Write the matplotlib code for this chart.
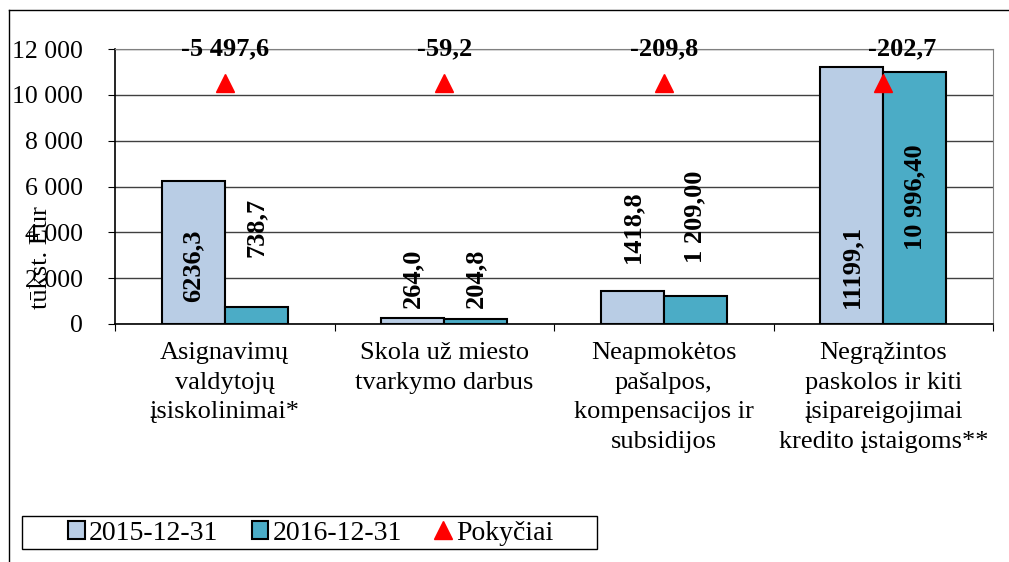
import matplotlib.pyplot as plt
import numpy as np
from matplotlib.lines import Line2D
from matplotlib.patches import Patch, Rectangle

plt.rcParams["font.family"] = ["Liberation Serif", "DejaVu Serif"]

categories = [
    "Asignavimų\nvaldytojų\nįsiskolinimai*",
    "Skola už miesto\ntvarkymo darbus",
    "Neapmokėtos\npašalpos,\nkompensacijos ir\nsubsidijos",
    "Negrąžintos\npaskolos ir kiti\nįsipareigojimai\nkredito įstaigoms**",
]
values_2015 = [6236.3, 264.0, 1418.8, 11199.1]
values_2016 = [738.7, 204.8, 1209.0, 10996.4]
labels_2015 = ["6236,3", "264,0", "1418,8", "11199,1"]
labels_2016 = ["738,7", "204,8", "1 209,00", "10 996,40"]
changes = ["-5 497,6", "-59,2", "-209,8", "-202,7"]
yticks = [0, 2000, 4000, 6000, 8000, 10000, 12000]
ytick_labels = ["0", "2 000", "4 000", "6 000", "8 000", "10 000", "12 000"]

# where the rotated value labels start (bottom of text), in data units
label_base_2015 = [950, 700, 2660, 700]
label_base_2016 = [2920, 700, 2660, 3230]
marker_level = 10500

fig = plt.figure(figsize=(10.09, 5.62), dpi=100)
ax = fig.add_axes([115 / 1009, 1 - 324 / 562, 878 / 1009, 275 / 562])

x = np.arange(len(categories))
w = 0.287
c15 = "#B9CDE5"
c16 = "#4BACC6"
ax.bar(x - w / 2, values_2015, w, color=c15, edgecolor="black", linewidth=1.5, zorder=3)
ax.bar(x + w / 2, values_2016, w, color=c16, edgecolor="black", linewidth=1.5, zorder=3)
ax.plot(x, [marker_level] * len(x), linestyle="none", marker="^", color="red",
        markersize=13, zorder=5)

for i in range(len(x)):
    ax.text(x[i] - w / 2, label_base_2015[i], labels_2015[i], rotation=90, ha="center",
            va="bottom", fontsize=19, fontweight="bold", zorder=6)
    ax.text(x[i] + w / 2, label_base_2016[i], labels_2016[i], rotation=90, ha="center",
            va="bottom", fontsize=19, fontweight="bold", zorder=6)
    dx = 0.085 if i == 3 else 0
    ax.text(x[i] + dx, 12000, changes[i], ha="center", va="center", fontsize=19,
            fontweight="bold", zorder=6)

ax.set_xlim(-0.5, len(x) - 0.5)
ax.set_ylim(0, 12000)
ax.set_yticks(yticks)
ax.set_yticklabels(ytick_labels, fontsize=18.5)
ax.set_xticks(np.arange(len(x) + 1) - 0.5)
ax.set_xticklabels([])
ax.set_xticks(x, minor=True)
ax.set_xticklabels(categories, minor=True, fontsize=19, linespacing=1.45, va="top")
ax.tick_params(axis="x", which="minor", length=0, pad=13)
ax.tick_params(axis="x", which="major", length=5, direction="out", color="black")
ax.tick_params(axis="y", length=5, direction="out", pad=18)
ax.grid(axis="y", color="#404040", linewidth=1, zorder=0)

for side in ["top", "right"]:
    ax.spines[side].set_color("#808080")
ax.spines["left"].set_linewidth(1.2)
ax.spines["bottom"].set_linewidth(1.2)

fig.text(41 / 1009, 1 - 258 / 562, "tūkst. Eur", rotation=90, ha="center", va="center",
         fontsize=19)

handles = [
    Patch(facecolor=c15, edgecolor="black", linewidth=1.5, label="2015-12-31"),
    Patch(facecolor=c16, edgecolor="black", linewidth=1.5, label="2016-12-31"),
    Line2D([], [], linestyle="none", marker="^", color="red", markersize=13, label="Pokyčiai"),
]
leg = fig.legend(handles=handles, ncol=3, loc="center left",
                 bbox_to_anchor=(68 / 1009, 1 - 533 / 562),
                 fontsize=20, frameon=False, handlelength=0.6, handleheight=0.6,
                 handletextpad=0.15, columnspacing=1.2, borderpad=0, borderaxespad=0)
fig.add_artist(Rectangle((22 / 1009, 1 - 549 / 562), 575 / 1009, 33 / 562, fill=False,
                         edgecolor="black", linewidth=1, transform=fig.transFigure))

# outer chart frame
fig.add_artist(Line2D([9 / 1009, 1], [1 - 10 / 562, 1 - 10 / 562], color="black", linewidth=1,
                      transform=fig.transFigure))
fig.add_artist(Line2D([9 / 1009, 9 / 1009], [0, 1 - 10 / 562], color="black", linewidth=1,
                      transform=fig.transFigure))

fig.savefig("out.png", dpi=100)
